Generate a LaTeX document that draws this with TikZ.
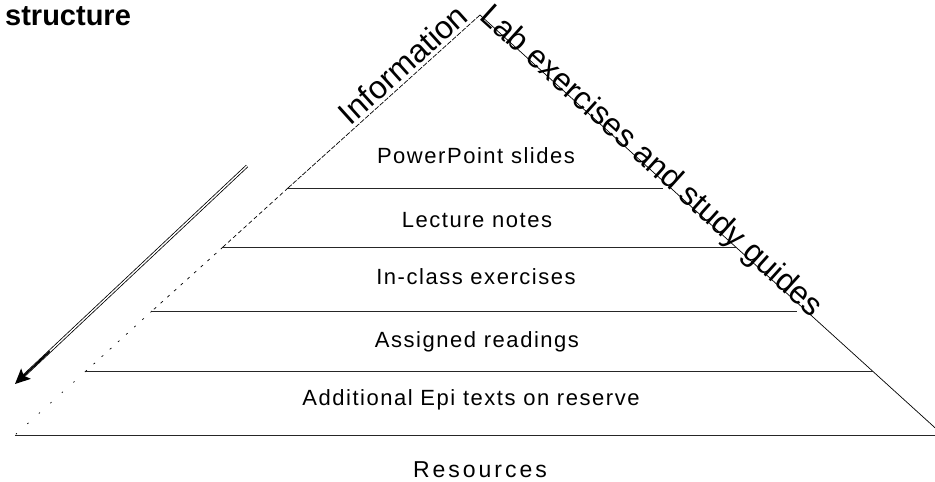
\documentclass[tikz,border=0pt]{standalone}
\usepackage{fontspec}
\setmainfont{Liberation Sans}
\newfontfamily\spacedA[LetterSpace=7]{Liberation Sans}
\newfontfamily\spacedB[LetterSpace=13]{Liberation Sans}
\usetikzlibrary{arrows.meta,calc}
\begin{document}
\begin{tikzpicture}[x=1pt,y=-1pt,
  level/.style={line width=0.8pt, draw=black!85},
  tier/.style={font=\spacedA\fontsize{22}{26}\selectfont, anchor=base, inner sep=0pt},
  edgelab/.style={font=\fontsize{32}{38}\selectfont, inner sep=0pt},
  sideline/.style={line width=0.7pt, draw=black},
]
\clip (0,0) rectangle (935,482);
% corner and level points
\coordinate (apex) at (480,15);
\coordinate (bl) at (15,435);
\coordinate (br) at (943,435);
\coordinate (l1) at (288,188); \coordinate (r1) at (663,188);
\coordinate (l2) at (223,247); \coordinate (r2) at (737,247);
\coordinate (l3) at (152,311); \coordinate (r3) at (797,311);
\coordinate (l4) at (86,371);  \coordinate (r4) at (873,371);
% left edge (dashed, sparser towards the base)
\draw[sideline, dash pattern=on 5pt off 1.5pt] (apex) -- (l1);
\draw[sideline, dash pattern=on 4pt off 3pt] (l1) -- (l2);
\draw[sideline, dash pattern=on 3pt off 6pt] (l2) -- (l3);
\draw[sideline, dash pattern=on 2pt off 9pt] (l3) -- (l4);
\draw[sideline, dash pattern=on 1.5pt off 14pt] (l4) -- (bl);
% right edge
\draw[sideline] (apex) -- (br);
% levels
\draw[level] (l1) -- (r1);
\draw[level] (l2) -- (r2);
\draw[level] (l3) -- (r3);
\draw[level] (l4) -- (r4);
\draw[level] (bl) -- (935,435);
% tier labels
\node[tier] (t1) at (476,163) {PowerPoint slides};
\node[tier] (t2) at (477,227) {Lecture notes};
\node[tier] (t3) at (476,284) {In-class exercises};
\node[tier] (t4) at (477,347) {Assigned readings};
\node[tier] (t5) at (471,405) {Additional Epi texts on reserve};
% base label
\node[font=\spacedB\fontsize{23}{27}\selectfont, anchor=base, inner sep=0pt] (res) at (480,477) {Resources};
% edge labels
\node[edgelab, rotate=42, anchor=base east] (info) at (470,19) {Information};
\node[edgelab, rotate=-42, anchor=mid west] (lab) at (480,16) {Lab exercises and study guides};
% title
\node[font=\bfseries\fontsize{29}{34}\selectfont, anchor=base west, inner sep=0pt] (title) at (5,25) {structure};
% double arrow
\coordinate (a1) at (247,166);
\coordinate (a2) at (15,384);
\coordinate (a3) at ($(a1)!0.85!(a2)$);
\draw[double, double distance=1.4pt, line width=0.8pt, shorten >=10pt] (a1) -- (a2);
\draw[line width=1.6pt, -{Stealth[length=15pt,width=14pt,inset=3pt]}] (a3) -- (a2);
\end{tikzpicture}
\end{document}
